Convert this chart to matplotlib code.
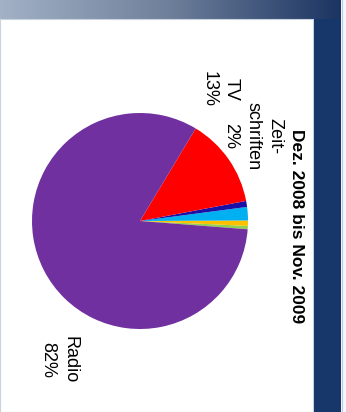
import numpy as np
import matplotlib.pyplot as plt
from matplotlib.colors import LinearSegmentedColormap
from matplotlib.patches import Rectangle

# Anteile je Medium (Prozent), Reihenfolge gegen den Uhrzeigersinn
segments = ['Sonstige 1', 'Sonstige 2', 'Zeitschriften', 'Sonstige 3', 'TV', 'Radio']
shares = [0.5, 0.8, 2.0, 0.9, 13.4, 82.4]
colors = ['#92D050', '#FFC000', '#00B0F0', '#1A10A8', '#FF0000', '#7030A0']

# Beschriftungen der großen Segmente
label_names = {'TV': 'TV', 'Zeitschriften': 'Zeit-\nschriften', 'Radio': 'Radio'}
label_pos = {'TV': (220, 89), 'Zeitschriften': (253, 136), 'Radio': (59, 360)}
title = 'Dez. 2008 bis Nov. 2009'

W, H = 346, 412
plt.rcParams['font.family'] = ['Liberation Sans', 'DejaVu Sans']
fig = plt.figure(figsize=(W / 100, H / 100), dpi=100)

# Hintergrund der Folie: Verlaufsleiste oben, blauer Rand rechts
bg = fig.add_axes([0, 0, 1, 1])
bg.set_xlim(0, W)
bg.set_ylim(H, 0)
bg.axis('off')
grad_cmap = LinearSegmentedColormap.from_list('bar', ['#A2B1C5', '#6E7F9A', '#1B3462'])
bg.imshow(np.linspace(0, 1, 256).reshape(1, -1), cmap=grad_cmap, aspect='auto',
          extent=[0, 341, 19, 0], zorder=0)
bg.add_patch(Rectangle((0, 19), 313, H - 19, facecolor='white', edgecolor='#C9D3E0',
                       linewidth=0.8, zorder=1))
bg.add_patch(Rectangle((313.5, 19), 27.5, H - 19, facecolor='#17376A', edgecolor='none', zorder=1))
bg.add_patch(Rectangle((341, 0), 5, H, facecolor='#F4F7FB', edgecolor='none', zorder=1))
bg.plot([341.5, 341.5], [0, H], color='#B9CBE3', linewidth=0.8, zorder=2)

# Kreisdiagramm
cx, cy, r = 140, 221, 108
ax = fig.add_axes([(cx - r) / W, 1 - (cy + r) / H, 2 * r / W, 2 * r / H])
ax.pie(shares, colors=colors, startangle=-4.4, counterclock=True, radius=1,
       wedgeprops=dict(linewidth=0))
ax.set_xlim(-1, 1)
ax.set_ylim(-1, 1)
ax.axis('off')

for name, text in label_names.items():
    value = shares[segments.index(name)]
    x, y = label_pos[name]
    fig.text(x / W, 1 - y / H, f'{text}\n{value:.0f}%', rotation=270, ha='center',
             va='center', multialignment='center', fontsize=13, linespacing=1.4,
             color='black')

fig.text(296 / W, 1 - 226 / H, title, rotation=270, ha='center', va='center',
         fontsize=12.5, fontweight='bold', color='black')

fig.savefig('out.png', dpi=100)
